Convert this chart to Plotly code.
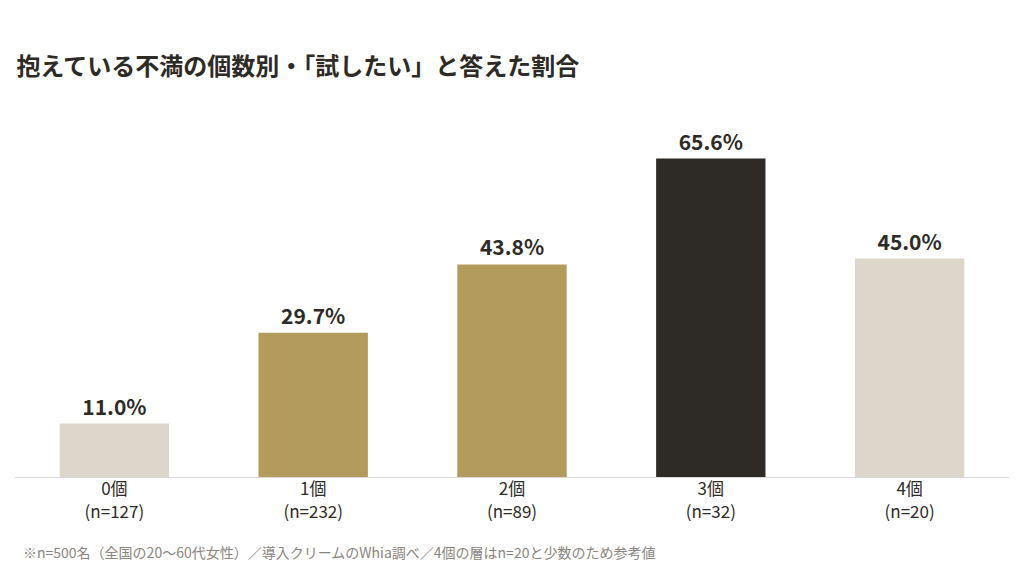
import plotly.graph_objects as go

# Data
categories = ['0個<br>(n=127)', '1個<br>(n=232)', '2個<br>(n=89)',
              '3個<br>(n=32)', '4個<br>(n=20)']
values = [11.0, 29.7, 43.8, 65.6, 45.0]
bar_colors = ['#ddd6ca', '#b39b5d', '#b39b5d', '#2e2a26', '#ddd6ca']

FONT = 'Noto Sans CJK JP'

fig = go.Figure()
fig.add_trace(go.Bar(
    x=categories,
    y=values,
    marker=dict(color=bar_colors, line=dict(width=0)),
    text=['<b>{:.1f}%</b>'.format(v) for v in values],
    textposition='outside',
    textfont=dict(family=FONT, size=21, color='#2e2a26'),
    cliponaxis=False,
    hoverinfo='skip',
))

fig.update_layout(
    width=1024, height=576,
    paper_bgcolor='white', plot_bgcolor='white',
    margin=dict(l=15, r=15, t=113, b=99),
    bargap=0.45,
    showlegend=False,
    font=dict(family=FONT, color='#2e2a26'),
    title=dict(
        text='<b>抱えている不満の個数別・「試したい」と答えた割合</b>',
        x=0.016, xanchor='left', y=0.885, yanchor='middle',
        font=dict(family=FONT, size=24, color='#2e2a26'),
    ),
    xaxis=dict(
        showline=True, linecolor='#d9d9d9', linewidth=1,
        ticks='', showgrid=False, ticklabelstandoff=-3,
        tickfont=dict(family=FONT, size=17, color='#2e2a26'),
    ),
    yaxis=dict(range=[0, 75], visible=False, showgrid=False),
)

fig.add_annotation(
    text='※n=500名（全国の20〜60代女性）／導入クリームのWhia調べ／4個の層はn=20と少数のため参考値',
    xref='paper', yref='paper', x=0.006, y=-0.206,
    xanchor='left', yanchor='middle', showarrow=False,
    font=dict(family=FONT, size=14, color='#8a8580'),
)

fig.write_html('out.html', config={'displayModeBar': False},
               post_script="document.body.style.margin='0';")
